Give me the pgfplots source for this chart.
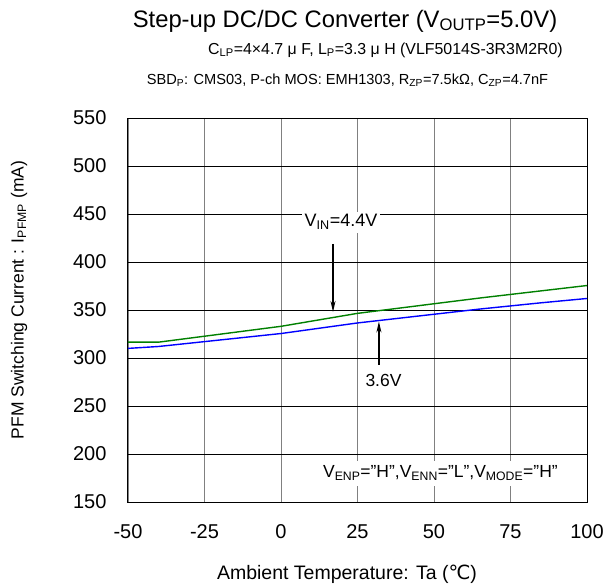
\documentclass[border=0pt]{standalone}
\usepackage{pgfplots}
\pgfplotsset{compat=1.18}
\usepackage{fontspec}
\setmainfont{Liberation Sans}
\newfontfamily\djv{DejaVu Sans}
\usetikzlibrary{arrows.meta}
\pgfplotstableread{
x y
-50 310
-40 312
0 325.5
25 336.5
65 351
85 357.5
100 362
}\blueT
\pgfplotstableread{
x y
-50 316.5
-40 316.5
0 333
25 346.5
65 362.5
100 375.5
}\greenT
\begin{document}
\begin{tikzpicture}
\path[use as bounding box] (-128pt,-85pt) rectangle (478pt,502pt);
\begin{axis}[
  at={(0,0)}, anchor=south west,
  scale only axis, width=459pt, height=384pt,
  xmin=-50, xmax=100, ymin=150, ymax=550,
  xtick={-50,-25,...,100}, ytick={150,200,...,550},
  major tick length=0pt,
  /pgf/number format/assume math mode=true,
  tick label style={font=\fontsize{20}{24}\selectfont},
  x tick label style={yshift=-19pt},
  y tick label style={xshift=-18pt},
  xmajorgrids, ymajorgrids,
  x grid style={gray, line width=0.9pt},
  y grid style={black, line width=0.9pt},
  axis line style={black, line width=1pt},
  clip=false,
]
\addplot[green!50!black, line width=1.4pt] table[x=x,y=y] {\greenT};
\addplot[blue, line width=1.4pt] table[x=x,y=y] {\blueT};
% annotations
\node[fill=white, inner sep=3pt, font=\fontsize{18}{21}\selectfont] at (axis cs:19.6,441.5) {V\textsubscript{IN}=4.4V};
\draw[-{Stealth[length=11pt,width=5pt]}, line width=1.4pt] (axis cs:17,419) -- (axis cs:17,348);
\node[fill=white, inner sep=4pt, font=\fontsize{17.5}{21}\selectfont] at (axis cs:33.5,277) {3.6V};
\draw[-{Stealth[length=11pt,width=5pt]}, line width=1.4pt] (axis cs:32,293) -- (axis cs:32,338);
\node[fill=white, inner sep=5pt, font=\fontsize{17.5}{21}\selectfont] at (axis cs:52.1,180) {V\textsubscript{ENP}="H",V\textsubscript{ENN}="L",V\textsubscript{MODE}="H"};
\end{axis}
% titles
\node[font=\fontsize{23.8}{28}\selectfont] at (217pt,481pt) {Step-up DC/DC Converter (V\textsubscript{OUTP}=5.0V)};
\node[font=\fontsize{15.9}{19}\selectfont] at (257.5pt,452pt) {C\textsubscript{LP}=4×4.7 μ F, L\textsubscript{P}=3.3 μ H (VLF5014S-3R3M2R0)};
\node[font=\fontsize{14.6}{18}\selectfont] at (219.5pt,422pt) {SBD\textsubscript{P}: CMS03, P-ch MOS: EMH1303, R\textsubscript{ZP}=7.5kΩ, C\textsubscript{ZP}=4.7nF};
\node[font=\fontsize{19.5}{23}\selectfont] at (219pt,-72pt) {Ambient Temperature: Ta ({\djv ℃})};
\node[font=\fontsize{17.5}{21}\selectfont, rotate=90] at (-109pt,202pt) {PFM Switching Current : I\textsubscript{PFMP} (mA)};
\end{tikzpicture}
\end{document}
